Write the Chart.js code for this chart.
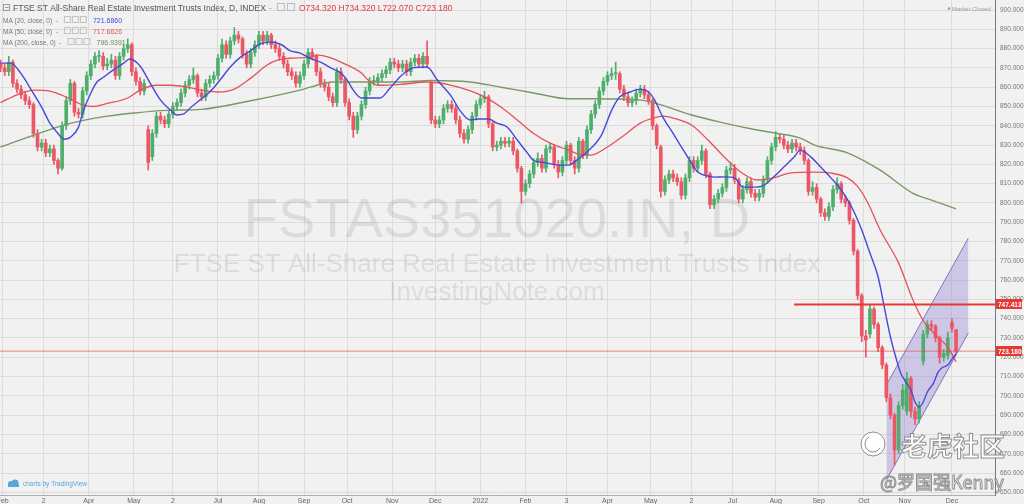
<!DOCTYPE html>
<html><head><meta charset="utf-8">
<script src="https://cdn.jsdelivr.net/npm/chart.js@4.4.0/dist/chart.umd.min.js"></script>
<style>html,body{margin:0;padding:0;background:#f1f1f1;overflow:hidden}canvas{display:block}</style>
</head><body><canvas id="c" width="1024" height="504"></canvas>
<script>
// ---- candle data (one candle every 2 trading days) ----
const opens = [
872,870,868,873,862,859,856,853,851,836,
829,831,826,828,822,818,840,853,862,847,
846,858,866,872,876,876,871,872,874,866,
876,880,882,868,863,858,838,824,836,845,
843,841,846,850,852,857,861,864,866,857,
855,862,864,866,875,882,877,884,887,885,
877,872,878,882,887,884,887,882,880,876,
872,868,866,862,866,872,878,876,868,862,
860,855,852,868,864,852,845,838,845,851,
858,863,863,865,867,869,873,872,870,872,
868,873,875,872,876,862,843,841,843,849,
851,849,843,836,833,838,845,851,854,855,
841,829,830,832,831,832,827,818,806,810,
815,821,823,818,828,829,820,816,822,830,
822,818,832,825,838,846,851,858,863,866,
867,867,859,855,852,853,857,859,856,853,
840,829,806,812,815,813,811,804,813,822,
818,822,827,815,799,802,805,808,817,818,
812,802,807,811,805,803,805,812,822,829,
834,833,830,828,831,829,827,822,806,808,
802,795,793,798,807,810,802,800,791,775,
752,731,732,745,737,725,716,699,690,672,
695,692,709,692,688,718,732,737,736,730,
720,721,738,734.32];
const highs = [
874,872,876,874,864,861,858,855,852,838,
833,833,830,830,823,842,855,864,863,849,
860,868,874,878,879,878,875,877,876,878,
882,885,883,870,865,864,840,838,847,847,
845,848,852,854,859,863,866,870,867,859,
864,866,868,877,885,884,886,891,889,886,
879,880,884,889,889,889,888,884,882,878,
874,870,868,868,874,880,880,877,870,864,
862,857,870,870,865,854,847,847,853,860,
865,866,867,869,871,875,875,874,874,874,
875,877,877,878,884,863,845,845,851,853,
853,851,845,838,840,847,853,856,858,856,
842,832,834,834,834,834,828,819,812,817,
823,826,825,830,831,830,822,824,832,831,
824,834,833,840,848,853,860,865,868,870,
873,868,861,857,855,859,861,861,858,854,
841,830,814,817,817,815,813,815,824,824,
824,830,828,816,804,807,810,819,821,820,
813,809,813,813,807,807,814,824,831,837,
836,835,832,833,833,831,829,823,811,810,
803,797,800,809,813,811,804,801,792,776,
753,734,747,746,738,726,717,701,691,697,
706,712,710,694,697,734,739,739,737,731,
724,733,740,734.32];
const lows = [
868,866,866,860,857,854,851,849,834,827,
827,824,824,820,815,817,838,851,845,844,
844,856,864,870,873,869,869,870,864,864,
874,878,866,861,856,856,817,822,834,841,
839,839,844,848,850,855,859,862,855,853,
853,860,862,864,873,875,875,882,883,875,
870,870,876,880,882,882,880,878,874,870,
866,864,860,860,864,870,874,866,860,858,
853,850,850,862,850,843,834,836,843,849,
856,861,861,863,865,867,870,868,868,866,
866,871,870,870,870,841,839,839,841,847,
847,841,834,831,831,836,843,849,852,839,
827,827,828,829,829,825,816,800,804,808,
813,819,816,816,826,818,813,814,820,820,
815,816,823,823,836,844,849,856,861,864,
864,857,853,850,850,851,855,854,851,838,
828,803,804,810,811,809,802,802,811,816,
816,820,813,797,797,800,803,806,815,810,
800,800,805,803,801,801,803,810,820,827,
831,828,826,826,827,825,820,804,804,800,
793,791,791,796,805,800,798,789,773,750,
728,720,730,735,723,714,697,688,664,670,
693,690,689,685,686,716,730,734,728,717,
718,719,733,722.07];
const closes = [
870,868,873,862,859,856,853,851,836,829,
831,826,828,822,818,840,853,862,847,846,
858,866,872,876,876,871,872,874,866,876,
880,882,868,863,858,862,821,836,845,843,
841,846,850,852,857,861,864,866,857,855,
862,864,866,875,882,877,884,887,885,877,
872,878,882,887,884,887,882,880,876,872,
868,866,862,866,872,878,876,868,862,860,
855,852,868,864,852,845,838,845,851,858,
863,863,865,867,869,873,872,870,872,868,
873,875,872,876,872,843,841,843,849,851,
849,843,836,833,838,845,851,854,855,841,
829,830,832,831,832,827,818,806,810,815,
821,823,818,828,829,820,816,822,830,822,
818,832,825,838,846,851,858,863,866,867,
867,859,855,852,853,857,859,856,853,840,
830,806,812,815,813,811,804,813,822,818,
822,827,815,799,802,805,808,817,818,812,
802,807,811,805,803,805,812,822,829,834,
833,830,828,831,829,827,822,806,808,802,
795,793,798,807,810,802,800,791,775,752,
731,729,745,737,725,716,699,690,672,695,
703,709,692,688,694,732,737,736,730,720,
722,730,735,723.18];
const daysPerCandle = 2;

// ---- moving averages (trading-day index, value) ----
const ma20Days = [0,5,10,15,20,24,28,31,34,38,40,44,47,50,55,60,63,68,73,78,83,86,89,93,98,102,107,112,117,122,127,132,137,141,146,151,156,161,166,169,172,176,179,185,190,195,201,208,213,220,224,229,233,238,242,247,252,257,260,265,272,277,281,286,293,298,302,307,312,316,319,323,328,333,337,340,343,348,353,358,362,367,372,377,382,387,390,395,400,405,410,415,420,424,428,431,434,437,439,441,444,446,448,450,452,455,457,459,462,464,466];
const ma20Values = [872.5,872.5,867,858.5,849.7,841.4,836,833,834,839.3,846.6,857,862.7,865,869,872.5,874.6,871,862,853.3,848,845.6,846,849.7,854,857.5,863.7,870.5,875.6,879,882.6,883.4,882,879,877.7,875,873,870,867.3,863.7,858.5,854.4,854.4,854.4,859.6,865.5,870,870.5,863.7,855,848,843,843.5,843.5,841.4,839.4,832.6,825.8,822,821,819.6,819.6,822.2,826.4,835,848,855,857.5,859,857.5,853.3,844.5,836,827.4,820.6,816,814.5,813.4,813.5,813,808.2,808.2,809,813.4,818.6,823.8,827.4,824,818.6,813,806.7,798,786,774,761.6,746,730.5,718.6,711.8,708,703,696.8,694.2,696.8,702,706.6,711.8,714.4,716,719,721.686];
const ma50Days = [0,8,16,24,33,40,45,52,62,68,76,83,91,98,106,114,122,130,135,141,151,155,160,167,176,179,184,195,208,220,228,236,244,252,260,268,277,284,288,296,304,312,320,323,328,337,345,353,361,369,377,385,397,405,413,418,423,429,438,445,450,457,462,466];
const ma50Values = [852,856,858.5,858,854.4,850.8,850,851.6,854.4,858.5,861,861,860,858.5,857.5,859,864.7,871.5,874,875,875.6,876.6,875.6,872.5,867.3,864,861,861.5,862.7,861,858.5,855,849.7,843,836,831,827.4,824.8,824.8,829,835,841.4,844.5,845,844,840.4,832.6,823.8,816,811.9,813,815.5,816,815.5,813,808.6,800,786,768.8,749.7,739,730.5,725.3,717.66];
const ma200Days = [0,24,33,49,65,81,98,122,146,151,162,179,195,210,229,244,260,277,289,312,320,337,353,369,379,390,397,413,429,445,454,466];
const ma200Values = [829,838,841,844.5,846.6,848,848.5,853,858.5,860,862.7,862.7,862.7,863.5,862.7,860,857,854,854,853.3,851.5,845.6,841.4,837.8,836,833.6,830,826,817,805,801.5,796.94];

// ---- axes ----
const monthDays = [1,21,43,65,84,106,126,148,169,191,212,234,256,276,296,317,337,357,378,399,421,441,464];
const monthLabels = ['Feb','2','Apr','May','2','Jul','Aug','Sep','Oct','Nov','Dec','2022','Feb','3','Apr','May','2','Jul','Aug','Sep','Oct','Nov','Dec'];
const yTicks = [650,660,670,680,690,700,710,720,730,740,750,760,770,780,790,800,810,820,830,840,850,860,870,880,890,900];
const xMin = -0.3, xMax = 485, yMin = 648.6, yMax = 905.2;

// ---- drawings ----
const resistanceLevel = 747.413;
const resistanceStartDay = 387;
const lastClose = 723.18;
const channelDays = [432, 472];
const channelUpper = [705.6, 781.8];
const channelLower = [656.3, 732.6];

const legendTitle = 'FTSE ST All-Share Real Estate Investment Trusts Index, D, INDEX';
const legendOHLC = 'O734.320 H734.320 L722.070 C723.180';
const maLegend = [['MA (20, close, 0)', '721.6860'], ['MA (50, close, 0)', '717.6626'], ['MA (200, close, 0)', '796.9391']];
const watermark = ['FSTAS351020.IN, D', 'FTSE ST All-Share Real Estate Investment Trusts Index', 'InvestingNote.com'];

const GREEN = '#4fae6c', RED = '#eb5764';
const BLUE = '#4549d9', MARED = '#e5525c', MAGREEN = '#7a9866';

const pts = (d, v) => d.map((x, i) => ({x, y: v[i]}));
const bodies = opens.map((o, i) => ({x: i * daysPerCandle, y: [o, closes[i]]}));
const wicks = opens.map((o, i) => ({x: i * daysPerCandle, y: [lows[i], highs[i]]}));
const candleColor = ctx => closes[ctx.dataIndex] >= opens[ctx.dataIndex] ? GREEN : RED;

const FONT = '"Liberation Sans", Arial, sans-serif';

const overlay = {
  id: 'overlay',
  beforeDatasetsDraw(chart) {
    const c = chart.ctx;
    c.save();
    c.fillStyle = 'rgba(0,0,0,0.085)';
    c.textAlign = 'center';
    c.textBaseline = 'alphabetic';
    c.font = '56px ' + FONT;
    c.fillText(watermark[0], 497, 237);
    c.font = '26px ' + FONT;
    c.fillText(watermark[1], 497, 272);
    c.fillText(watermark[2], 497, 300);
    c.restore();
  },
  afterDraw(chart) {
    const c = chart.ctx, y = chart.scales.y;
    c.save();
    // title legend
    c.strokeStyle = '#9a9a9a'; c.lineWidth = 1;
    c.strokeRect(3.5, 4.5, 6, 6);
    c.beginPath(); c.moveTo(5, 7.5); c.lineTo(8.5, 7.5); c.stroke();
    c.textBaseline = 'alphabetic'; c.textAlign = 'left';
    c.font = '8.5px ' + FONT; c.fillStyle = '#555';
    c.fillText(legendTitle, 13, 11);
    let x = 13 + c.measureText(legendTitle).width + 3;
    c.fillStyle = '#999'; c.fillText('-', x, 11); x += 8;
    c.strokeStyle = '#bbb';
    for (let k = 0; k < 2; k++) { c.strokeRect(x + 0.5, 3.5, 7, 7); x += 10; }
    c.fillStyle = '#e0393e'; c.fillText(legendOHLC, x + 2, 11);
    // MA legends
    const cols = [BLUE, MARED, '#6f8a5f'];
    maLegend.forEach((m, i) => {
      const yy = 23 + i * 11;
      c.font = '6.5px ' + FONT; c.fillStyle = '#777';
      c.fillText(m[0] + '  -', 3, yy);
      let bx = 3 + c.measureText(m[0] + '  -').width + 6;
      c.strokeStyle = '#c4c4c4';
      for (let k = 0; k < 3; k++) { c.strokeRect(bx + 0.5, yy - 6.5, 6, 6); bx += 8; }
      c.font = '7px ' + FONT; c.fillStyle = cols[i];
      c.fillText(m[1], bx + 5, yy);
    });
    // market closed
    c.fillStyle = '#999';
    c.beginPath(); c.arc(949, 8.5, 1.2, 0, Math.PI * 2); c.fill();
    c.font = '6px ' + FONT; c.fillText('Market Closed', 952, 10.5);
    // tradingview
    c.fillStyle = '#5aa6da';
    c.beginPath(); c.arc(11, 484, 3, 0, Math.PI * 2); c.arc(15, 483, 3.5, 0, Math.PI * 2); c.fill();
    c.fillRect(8, 484, 11, 3);
    c.font = '6.5px ' + FONT; c.fillText('charts by TradingView', 23, 486);
    // price boxes
    [[resistanceLevel, '#e53935'], [lastClose, '#e53935']].forEach(([v, col]) => {
      const py = Math.round(y.getPixelForValue(v));
      c.fillStyle = col; c.fillRect(996, py - 5, 26, 10);
      c.fillStyle = '#fff'; c.font = 'bold 6.5px ' + FONT; c.textAlign = 'left';
      c.fillText(v.toFixed(3), 998, py + 2.5);
    });
    // community watermark
    c.lineWidth = 1;
    c.strokeStyle = 'rgba(110,110,110,0.75)';
    c.fillStyle = 'rgba(255,255,255,0.92)';
    c.beginPath(); c.arc(873, 444, 12, 0, Math.PI * 2); c.fill(); c.stroke();
    c.beginPath(); c.arc(873, 444, 8, 0.5, 4.2); c.stroke();
    c.font = 'bold 26px "Noto Sans CJK SC", sans-serif';
    c.fillText('老虎社区', 901, 456); c.strokeText('老虎社区', 901, 456);
    c.font = '18px "Noto Sans CJK SC", sans-serif';
    c.fillText('@罗国强Kenny', 880, 489); c.strokeText('@罗国强Kenny', 880, 489);
    c.restore();
  }
};

new Chart(document.getElementById('c'), {
  type: 'bar',
  data: {
    datasets: [
      {type: 'line', data: [{x: resistanceStartDay, y: resistanceLevel}, {x: xMax, y: resistanceLevel}], borderColor: '#e53935', borderWidth: 2, pointRadius: 0, order: 0},
      {type: 'line', data: [{x: xMin, y: lastClose}, {x: xMax, y: lastClose}], borderColor: 'rgba(229,57,53,0.6)', borderWidth: 1, pointRadius: 0, order: 0},
      {type: 'line', data: pts(ma20Days, ma20Values), borderColor: BLUE, borderWidth: 1.4, pointRadius: 0, cubicInterpolationMode: 'monotone', order: 1},
      {type: 'line', data: pts(ma50Days, ma50Values), borderColor: MARED, borderWidth: 1.3, pointRadius: 0, cubicInterpolationMode: 'monotone', order: 1},
      {type: 'line', data: pts(ma200Days, ma200Values), borderColor: MAGREEN, borderWidth: 1.4, pointRadius: 0, cubicInterpolationMode: 'monotone', order: 1},
      {type: 'bar', data: bodies, backgroundColor: candleColor, barThickness: 3, minBarLength: 1, grouped: false, borderWidth: 0, order: 2},
      {type: 'bar', data: wicks, backgroundColor: candleColor, barThickness: 1, grouped: false, borderWidth: 0, order: 3},
      {type: 'line', data: pts(channelDays, channelUpper), borderColor: 'rgba(120,105,175,0.9)', borderWidth: 1, pointRadius: 0, fill: false, order: 5},
      {type: 'line', data: pts(channelDays, channelLower), borderColor: 'rgba(120,105,175,0.9)', borderWidth: 1, pointRadius: 0, fill: '-1', backgroundColor: 'rgba(135,115,205,0.33)', order: 4}
    ]
  },
  options: {
    responsive: false, animation: false, devicePixelRatio: 1, events: [],
    layout: {padding: 0},
    plugins: {legend: {display: false}, tooltip: {enabled: false}},
    scales: {
      x: {
        type: 'linear', min: xMin, max: xMax, offset: false,
        grid: {color: '#dcdcdc', drawTicks: false, offset: false},
        border: {display: true, color: '#b0b0b0'},
        ticks: {autoSkip: false, maxRotation: 0, padding: 2, color: '#666', font: {size: 7, family: FONT},
          callback: (v, i) => monthLabels[i]},
        afterBuildTicks: s => { s.ticks = monthDays.map(v => ({value: v})); },
        afterFit: s => { s.height = 9; s.paddingLeft = 0; s.paddingRight = 0; }
      },
      y: {
        type: 'linear', position: 'right', min: yMin, max: yMax,
        grid: {color: '#dcdcdc', drawTicks: false},
        border: {display: true, color: '#777'},
        ticks: {padding: 5, color: '#777', font: {size: 6.5, family: FONT}, callback: v => v.toFixed(3)},
        afterBuildTicks: s => { s.ticks = yTicks.map(v => ({value: v})); },
        afterFit: s => { s.width = 29; s.paddingTop = 0; s.paddingBottom = 0; }
      }
    }
  },
  plugins: [overlay]
});
</script></body></html>
